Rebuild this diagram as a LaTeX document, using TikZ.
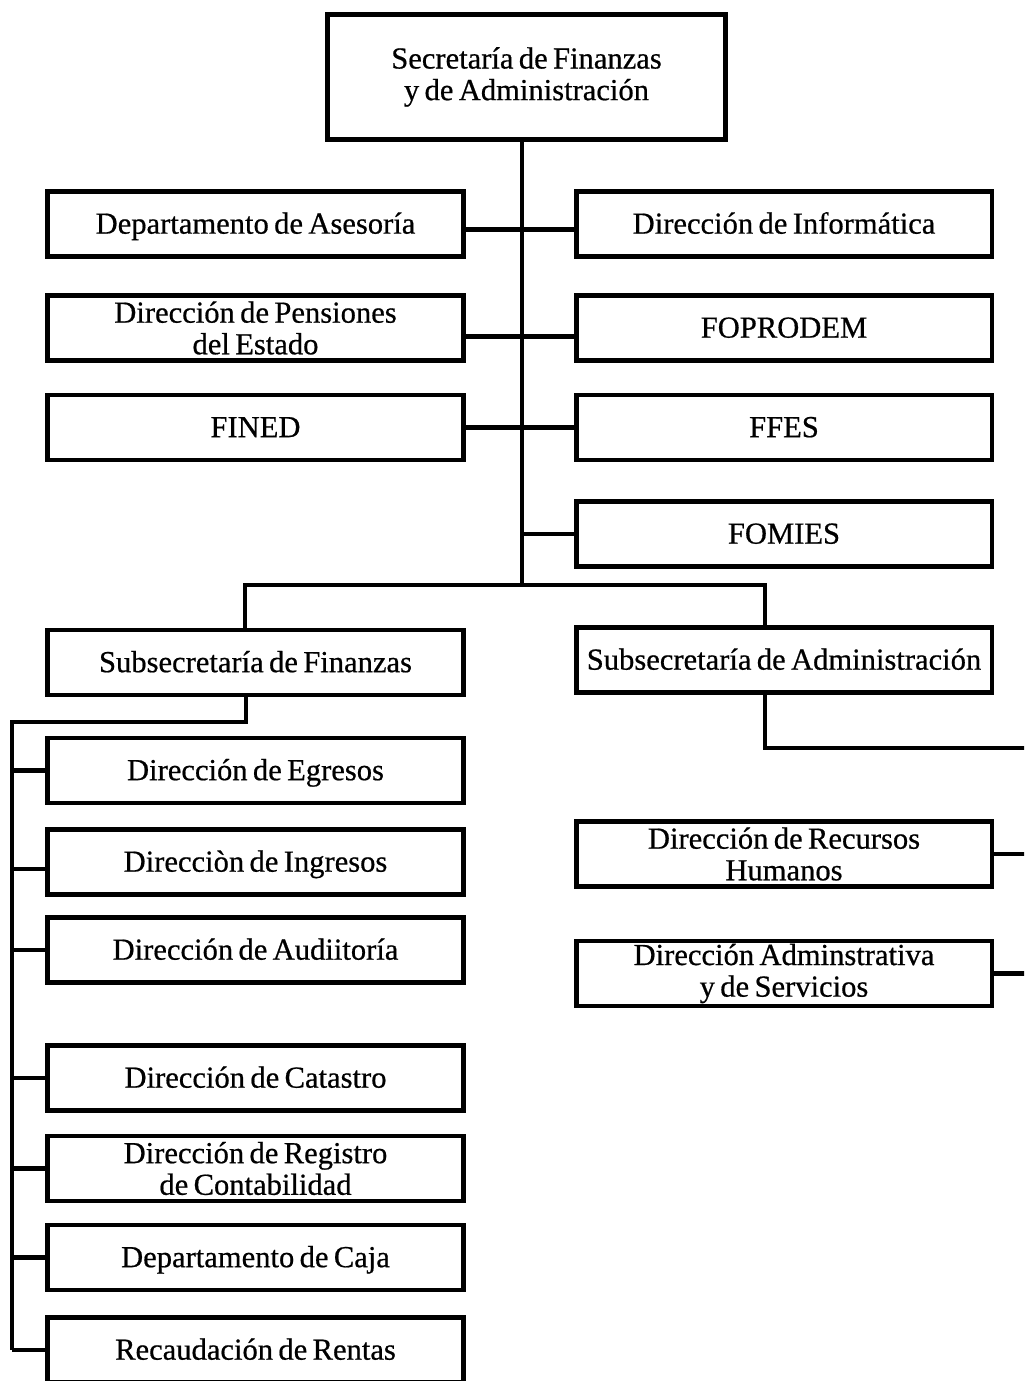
\documentclass[tikz,border=0pt]{standalone}
\usepackage{fontspec}
\setmainfont[FakeBold=0.6,WordSpace=0.7]{Liberation Serif}
\begin{document}
\begin{tikzpicture}[x=0.02cm,y=-0.02cm,
  box/.style={draw,line width=2.8pt,minimum width=8.32cm,minimum height=1.3cm,
    inner sep=0pt,align=center,font=\fontsize{17.4}{18}\selectfont},
  one/.style={box,text height=13pt,text depth=2pt},
  link/.style={line width=2.8pt}]
\useasboundingbox (0,0) rectangle (1024,1381);
\clip (0,0) rectangle (1024,1381);

% head office
\node[box,minimum width=7.96cm,minimum height=2.5cm] (sec) at (526.5,77)
  {Secretaría de Finanzas\\y de Administración};

% units attached to the head office
\node[one] (ases) at (255.5,224) {Departamento de Asesoría};
\node[box] (pens) at (255.5,328) {Dirección de Pensiones\\del Estado};
\node[one] (fined) at (255.5,427.5) {FINED};
\node[one] (info) at (784,224) {Dirección de Informática};
\node[one] (fopro) at (784,328) {FOPRODEM};
\node[one] (ffes) at (784,427.5) {FFES};
\node[one] (fomies) at (784,534) {FOMIES};

% under-secretariats
\node[one] (subfin) at (255.5,662.5) {Subsecretaría de Finanzas};
\node[one] (subadm) at (784,660) {Subsecretaría de Administración};

% finance directorates
\node[one] (egr) at (255.5,770.5) {Dirección de Egresos};
\node[one] (ing) at (255.5,862) {Direcciòn de Ingresos};
\node[one] (aud) at (255.5,950) {Dirección de Audiitoría};
\node[one] (cat) at (255.5,1078) {Dirección de Catastro};
\node[box] (reg) at (255.5,1168.5) {Dirección de Registro\\de Contabilidad};
\node[one] (caja) at (255.5,1257.5) {Departamento de Caja};
\node[one] (rent) at (255.5,1350) {Recaudación de Rentas};

% administration directorates
\node[box] (rh) at (784,854) {Dirección de Recursos\\Humanos};
\node[box] (dadm) at (784,973.5) {Dirección Adminstrativa\\y de Servicios};

% main trunk
\coordinate (trunk) at (522,585);
\draw[link] (sec.south -| trunk) -- (trunk);
\draw[link] ([yshift=-3pt]ases.east) -- ([yshift=-3pt]info.west);
\draw[link] ([yshift=-5pt]pens.east) -- ([yshift=-5pt]fopro.west);
\draw[link] (fined.east) -- (ffes.west);
\draw[link] (fomies.west) -- (fomies.west -| trunk);

% bar to the under-secretariats
\coordinate (bl) at (245,585);
\coordinate (br) at (765,585);
\draw[link,line cap=rect] (subfin.north -| bl) -- (bl) -- (br) -- (subadm.north -| br);

% finance spine
\coordinate (fa) at (246,722);
\coordinate (spine) at (12,722);
\draw[link] (subfin.south -| fa) -- (fa) -- (spine) -- (spine |- rent.west);
\foreach \n in {egr,aud,cat,reg,caja,rent}
  \draw[link] (spine |- \n.west) -- (\n.west);
\draw[link] ([yshift=-4pt]spine |- ing.west) -- ([yshift=-4pt]ing.west);

% administration branch, running off the right edge
\coordinate (aa) at (765,748);
\coordinate (edge) at (1040,748);
\draw[link] (subadm.south -| aa) -- (aa) -- (edge) -- (edge |- dadm.east);
\draw[link] (rh.east) -- (rh.east -| edge);
\draw[link] (dadm.east) -- (dadm.east -| edge);
\end{tikzpicture}
\end{document}
